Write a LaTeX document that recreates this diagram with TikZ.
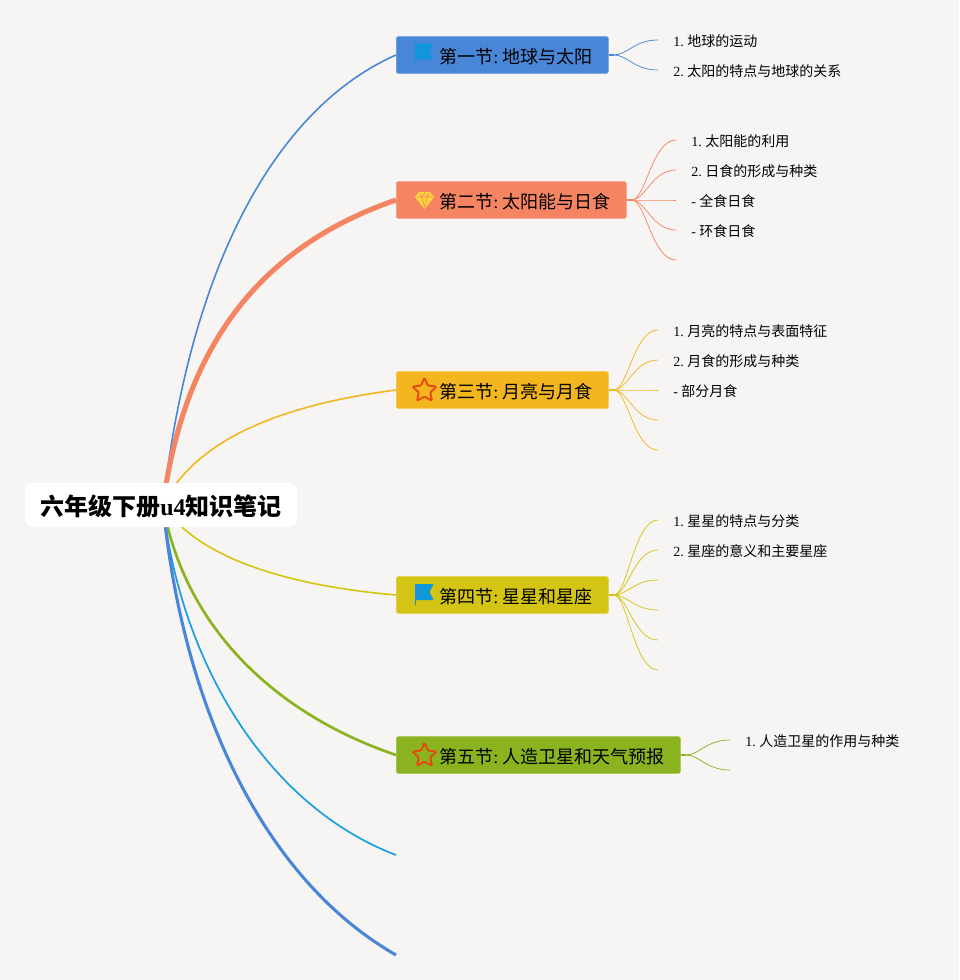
\documentclass[tikz,border=0pt]{standalone}
\usepackage{fontspec}
\setmainfont{Liberation Serif}
\newfontfamily\cjk{Noto Sans CJK SC}
\usetikzlibrary{arrows.meta,positioning,shapes.geometric,calc}
\frenchspacing
\definecolor{paper}{RGB}{247,245,243}
\definecolor{bluetopic}{RGB}{74,134,216}
\definecolor{coraltopic}{RGB}{245,132,98}
\definecolor{ambertopic}{RGB}{243,182,31}
\definecolor{olivetopic}{RGB}{212,196,20}
\definecolor{greentopic}{RGB}{138,179,31}
\definecolor{cyanline}{RGB}{27,160,224}
\definecolor{flagblue}{RGB}{18,150,219}
\definecolor{starred}{RGB}{232,71,14}
\definecolor{gemyellow}{RGB}{255,216,59}
\tikzset{
  root/.style={fill=white,rounded corners=6pt,minimum width=204pt,minimum height=33pt,inner sep=0pt,text height=19pt,text depth=2.6pt,font=\fontsize{18pt}{22pt}\selectfont\bfseries},
  topic/.style={fill=#1,draw=#1!85!white,line width=0.5pt,rounded corners=1.5pt,anchor=west,inner xsep=0pt,inner ysep=0pt,minimum height=27.5pt,text height=14pt,text depth=1.8pt,align=left,font=\fontsize{13.5pt}{16pt}\selectfont},
  leaf/.style={anchor=west,inner xsep=11.25pt,inner ysep=0pt,minimum height=12pt,text height=11pt,text depth=1.7pt,font=\fontsize{10.5pt}{13pt}\selectfont},
  staricon/.style={star,star points=5,star point ratio=2.1,draw=starred,line width=1.4pt,minimum size=19pt,inner sep=0pt,rounded corners=0.8pt},
  branch/.style={line width=#1},
  twig/.style={line width=0.55pt,to path={.. controls ($(\tikztostart)+(14,0)$) and ($(\tikztotarget)+(-24,0)$) .. (\tikztotarget)}},
  stub/.style={line width=1.5pt}
}
\newcommand{\TopicLabel}[2]{\hspace*{32.25pt}{\cjk #1}:\hspace{-1.5pt} {\cjk #2}}
\newcommand{\FlagSymbol}{%
\begin{tikzpicture}[x=0.75pt,y=0.75pt]
    \fill[flagblue] (0,0) rectangle (1.5,21);
    \fill[flagblue] (1,21) -- (19,21) -- (15,13) -- (19,5) -- (1,5) -- cycle;
\end{tikzpicture}%
}
\newcommand{\GemSymbol}{%
\begin{tikzpicture}[x=0.75pt,y=0.75pt]
    \fill[gemyellow] (0,12) -- (4,17) -- (15,17) -- (19,12) -- (9.5,0) -- cycle;
    \draw[coraltopic,line width=0.5pt] (1.5,12) -- (17.5,12) (5,16) -- (6.5,12) -- (9.5,16) -- (12.5,12) -- (14,16) (6.5,12) -- (9.5,2) -- (12.5,12);
\end{tikzpicture}%
}
\begin{document}
\begin{tikzpicture}[x=0.75pt,y=-0.75pt]
  \useasboundingbox[fill=paper] (0,0) rectangle (959,980);

  % hub and free ends
  \coordinate (hub) at (163,505);
  \coordinate (end6) at (396,855);
  \coordinate (end7) at (396,955);

  % topics
  \node[topic=bluetopic,text width=159pt] (t1) at (396,55) {\TopicLabel{第一节}{地球与太阳}};
  \node[topic=coraltopic,text width=172.5pt] (t2) at (396,200) {\TopicLabel{第二节}{太阳能与日食}};
  \node[topic=ambertopic,text width=159pt] (t3) at (396,390) {\TopicLabel{第三节}{月亮与月食}};
  \node[topic=olivetopic,text width=159pt] (t4) at (396,595) {\TopicLabel{第四节}{星星和星座}};
  \node[topic=greentopic,text width=213pt] (t5) at (396,755) {\TopicLabel{第五节}{人造卫星和天气预报}};

  % icons
  \node[inner sep=0pt] (icon1) at (424,54) {\FlagSymbol};
  \node[inner sep=0pt] (icon2) at (424.5,200.5) {\GemSymbol};
  \node[staricon] (icon3) at (424.5,390.5) {};
  \node[inner sep=0pt] (icon4) at (424,594.5) {\FlagSymbol};
  \node[staricon] (icon5) at (424.5,755.5) {};

  % main branches
  \draw[branch=1.2pt,bluetopic] (hub) .. controls (190,265) and (276,108) .. (t1.west);
  \draw[branch=3.8pt,coraltopic] (hub) .. controls (185,340) and (265,245) .. (t2.west);
  \draw[branch=1.2pt,ambertopic] (hub) .. controls (195,440) and (280,405) .. (t3.west);
  \draw[branch=1.2pt,olivetopic] (hub) .. controls (195,555) and (280,585) .. (t4.west);
  \draw[branch=2pt,greentopic] (hub) .. controls (185,630) and (278,715) .. (t5.west);
  \draw[branch=1.3pt,cyanline] (hub) .. controls (180,660) and (265,805) .. (end6);
  \draw[branch=2.3pt,bluetopic] (hub) .. controls (183,710) and (265,880) .. (end7);

  \node[root] (rootnode) at (161,505) {{\cjk 六年级下册}u4{\cjk 知识笔记}};

  % leaves of the first topic
  \node[leaf] (l11) at (658,40) {1. {\cjk 地球的运动}};
  \node[leaf] (l12) at (658,70) {2. {\cjk 太阳的特点与地球的关系}};
  \coordinate (h1) at ($(t1.east)+(5,0)$);
  \draw[stub,bluetopic] (t1.east) -- (h1);
  \draw[twig,bluetopic] (h1) to (l11.west);
  \draw[twig,bluetopic] (h1) to (l12.west);

  % leaves of the second topic
  \node[leaf] (l21) at (676,140) {1. {\cjk 太阳能的利用}};
  \node[leaf] (l22) at (676,170) {2. {\cjk 日食的形成与种类}};
  \node[leaf] (l23) at (676,200) {- {\cjk 全食日食}};
  \node[leaf] (l24) at (676,230) {- {\cjk 环食日食}};
  \coordinate (l25) at (676,260);
  \coordinate (h2) at ($(t2.east)+(5,0)$);
  \draw[stub,coraltopic] (t2.east) -- (h2);
  \draw[twig,coraltopic] (h2) to (l21.west);
  \draw[twig,coraltopic] (h2) to (l22.west);
  \draw[twig,coraltopic] (h2) to (l23.west);
  \draw[twig,coraltopic] (h2) to (l24.west);
  \draw[twig,coraltopic] (h2) to (l25);

  % leaves of the third topic
  \node[leaf] (l31) at (658,330) {1. {\cjk 月亮的特点与表面特征}};
  \node[leaf] (l32) at (658,360) {2. {\cjk 月食的形成与种类}};
  \node[leaf] (l33) at (658,390) {- {\cjk 部分月食}};
  \coordinate (l34) at (658,420);
  \coordinate (l35) at (658,450);
  \coordinate (h3) at ($(t3.east)+(5,0)$);
  \draw[stub,ambertopic] (t3.east) -- (h3);
  \draw[twig,ambertopic] (h3) to (l31.west);
  \draw[twig,ambertopic] (h3) to (l32.west);
  \draw[twig,ambertopic] (h3) to (l33.west);
  \draw[twig,ambertopic] (h3) to (l34);
  \draw[twig,ambertopic] (h3) to (l35);

  % leaves of the fourth topic
  \node[leaf] (l41) at (658,520) {1. {\cjk 星星的特点与分类}};
  \node[leaf] (l42) at (658,550) {2. {\cjk 星座的意义和主要星座}};
  \coordinate (l43) at (658,580);
  \coordinate (l44) at (658,610);
  \coordinate (l45) at (658,640);
  \coordinate (l46) at (658,670);
  \coordinate (h4) at ($(t4.east)+(5,0)$);
  \draw[stub,olivetopic] (t4.east) -- (h4);
  \draw[twig,olivetopic] (h4) to (l41.west);
  \draw[twig,olivetopic] (h4) to (l42.west);
  \draw[twig,olivetopic] (h4) to (l43);
  \draw[twig,olivetopic] (h4) to (l44);
  \draw[twig,olivetopic] (h4) to (l45);
  \draw[twig,olivetopic] (h4) to (l46);

  % leaves of the fifth topic
  \node[leaf] (l51) at (730,740) {1. {\cjk 人造卫星的作用与种类}};
  \coordinate (l52) at (730,770);
  \coordinate (h5) at ($(t5.east)+(5,0)$);
  \draw[stub,greentopic] (t5.east) -- (h5);
  \draw[twig,greentopic] (h5) to (l51.west);
  \draw[twig,greentopic] (h5) to (l52);
\end{tikzpicture}
\end{document}
